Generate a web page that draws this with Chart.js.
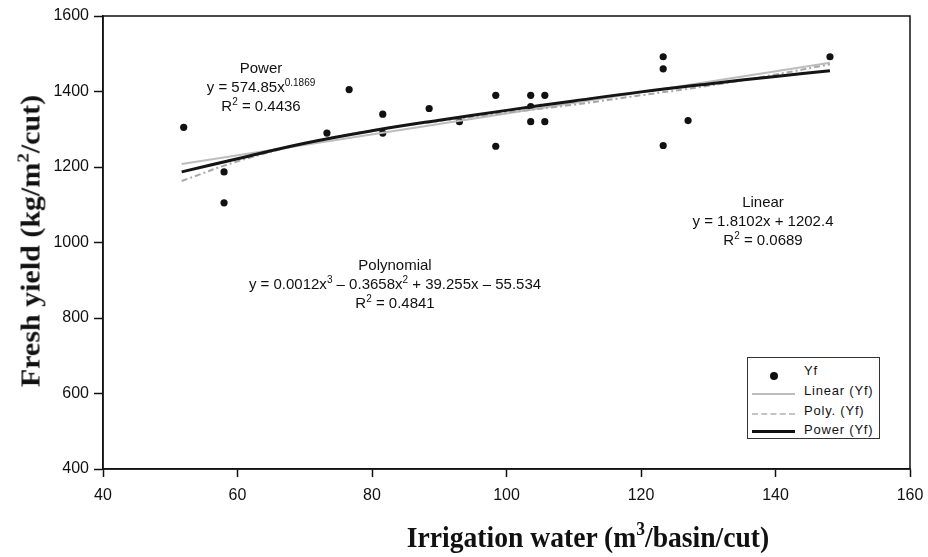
<!DOCTYPE html>
<html>
<head>
<meta charset="utf-8">
<script src="https://cdn.jsdelivr.net/npm/chart.js@4.4.1/dist/chart.umd.min.js"></script>
<style>
  body { margin: 0; background: #fff; }
  #wrap { position: relative; width: 928px; height: 557px; }
  .note { position: absolute; font-family: "Liberation Sans", Arial, sans-serif; font-size: 15px; color: #111;
          text-align: center; line-height: 19px; transform: translateX(-50%); white-space: nowrap; }
  .note sup { font-size: 10px; line-height: 0; vertical-align: 6px; }
  .axt { position: absolute; font-family: "Liberation Serif", "Times New Roman", serif; font-weight: bold; font-size: 30px;
         color: #111; white-space: nowrap; line-height: 32px; }
  .axt sup { font-size: 19px; line-height: 0; vertical-align: 12px; }
  #legend { position: absolute; left: 747px; top: 357px; width: 131px; height: 80px; border: 1px solid #333;
            background: #fff; font-family: "Liberation Sans", Arial, sans-serif; font-size: 13px; letter-spacing: 0.8px; color: #111; }
  #legend .txt { position: absolute; left: 56px; line-height: 14px; white-space: nowrap; }
  #legend .sw { position: absolute; left: 4px; width: 43px; height: 0; }
</style>
</head>
<body>
<div id="wrap">
  <canvas id="chart" width="928" height="557"></canvas>

  <div class="note" style="left:261px; top:58px;">Power<br>y = 574.85x<sup>0.1869</sup><br>R<sup>2</sup> = 0.4436</div>
  <div class="note" style="left:763px; top:192px;">Linear<br>y = 1.8102x + 1202.4<br>R<sup>2</sup> = 0.0689</div>
  <div class="note" style="left:395px; top:255px;">Polynomial<br>y = 0.0012x<sup>3</sup> &ndash; 0.3658x<sup>2</sup> + 39.255x &ndash; 55.534<br>R<sup>2</sup> = 0.4841</div>

  <div class="axt" style="left:588px; top:537px; transform:translate(-50%,-50%) scaleX(0.92);">Irrigation water (m<sup>3</sup>/basin/cut)</div>
  <div class="axt" style="left:30px; top:241px; transform:translate(-50%,-50%) rotate(-90deg) scaleY(0.92);">Fresh yield (kg/m<sup>2</sup>/cut)</div>

  <div id="legend">
    <div style="position:absolute; left:22px; top:14px; width:8px; height:8px; border-radius:50%; background:#111;"></div>
    <div class="txt" style="top:6px;">Yf</div>
    <div class="sw" style="top:35px; border-top:2px solid #bdbdbd;"></div>
    <div class="txt" style="top:26px;">Linear (Yf)</div>
    <div class="sw" style="top:55px; border-top:2px dashed #c4c4c4;"></div>
    <div class="txt" style="top:46px;">Poly. (Yf)</div>
    <div class="sw" style="top:72px; border-top:3px solid #111;"></div>
    <div class="txt" style="top:65px;">Power (Yf)</div>
  </div>
</div>

<script>
// measured points: irrigation water vs fresh yield
const waterX = [52, 58, 58, 73.3, 76.6, 81.6, 81.6, 88.5, 93, 98.4, 98.4, 103.6, 103.6, 103.6, 105.7, 105.7, 123.3, 123.3, 123.3, 127, 148.1];
const yieldYf = [1305, 1187, 1105, 1290, 1405, 1340, 1290, 1355, 1320, 1390, 1255, 1390, 1360, 1320, 1390, 1320, 1492, 1460, 1257, 1323, 1492];

// trend lines
const linearX = [51.7, 100, 148.1];
const linearY = [1208, 1342, 1476];
const polyX = [51.7, 60, 70, 80, 90, 100, 110, 120, 130, 140, 148.1];
const polyY = [1163, 1215, 1262, 1297, 1322, 1344, 1365, 1390, 1415, 1445, 1472];
const powerX = [51.7, 60, 70, 80, 90, 100, 110, 120, 130, 140, 148.1];
const powerY = [1187, 1222, 1263, 1296, 1324, 1350, 1375, 1399, 1420, 1440, 1455];

const xTicks = [40, 60, 80, 100, 120, 140, 160];
const yTicks = [400, 600, 800, 1000, 1200, 1400, 1600];

const pts = (xs, ys) => xs.map((x, i) => ({ x: x, y: ys[i] }));

const frame = {
  id: "frame",
  afterDraw(chart) {
    const a = chart.chartArea, c = chart.ctx;
    c.save();
    c.strokeStyle = "#111";
    c.lineWidth = 1.5;
    c.strokeRect(a.left, a.top, a.right - a.left, a.bottom - a.top);
    c.restore();
  }
};

const tickFont = { family: "Liberation Sans", size: 16 };

new Chart(document.getElementById("chart").getContext("2d"), {
  type: "scatter",
  data: {
    datasets: [
      { label: "Yf", data: pts(waterX, yieldYf), pointRadius: 3.6, pointBackgroundColor: "#111", pointBorderWidth: 0, order: 4 },
      { label: "Linear (Yf)", data: pts(linearX, linearY), showLine: true, pointRadius: 0, borderColor: "#bdbdbd", borderWidth: 2, order: 3 },
      { label: "Poly. (Yf)", data: pts(polyX, polyY), showLine: true, pointRadius: 0, borderColor: "#a8a8a8", borderWidth: 2, borderDash: [6, 3, 2, 3], tension: 0.4, order: 2 },
      { label: "Power (Yf)", data: pts(powerX, powerY), showLine: true, pointRadius: 0, borderColor: "#151515", borderWidth: 3, tension: 0.4, order: 1 }
    ]
  },
  options: {
    responsive: false,
    animation: false,
    layout: { padding: { top: 16, right: 18, left: 0, bottom: 0 } },
    plugins: { legend: { display: false }, tooltip: { enabled: false } },
    scales: {
      x: {
        type: "linear", min: 40, max: 160,
        afterBuildTicks: s => { s.ticks = xTicks.map(v => ({ value: v })); },
        afterFit: s => { s.height = 88; s.paddingLeft = 0; s.paddingRight = 0; },
        ticks: { color: "#111", font: tickFont, padding: 9, callback: v => String(v) },
        grid: { drawOnChartArea: false, color: "#111", tickLength: 8, tickWidth: 1.5 },
        border: { color: "#111", width: 1.5 },
        title: { display: false }
      },
      y: {
        min: 400, max: 1600,
        afterBuildTicks: s => { s.ticks = yTicks.map(v => ({ value: v })); },
        afterFit: s => { s.width = 103; s.paddingTop = 0; s.paddingBottom = 0; },
        ticks: { color: "#111", font: tickFont, padding: 5, callback: v => String(v) },
        grid: { drawOnChartArea: false, color: "#111", tickLength: 9, tickWidth: 1.5 },
        border: { color: "#111", width: 1.5 },
        title: { display: false }
      }
    }
  },
  plugins: [frame]
});
</script>
</body>
</html>
